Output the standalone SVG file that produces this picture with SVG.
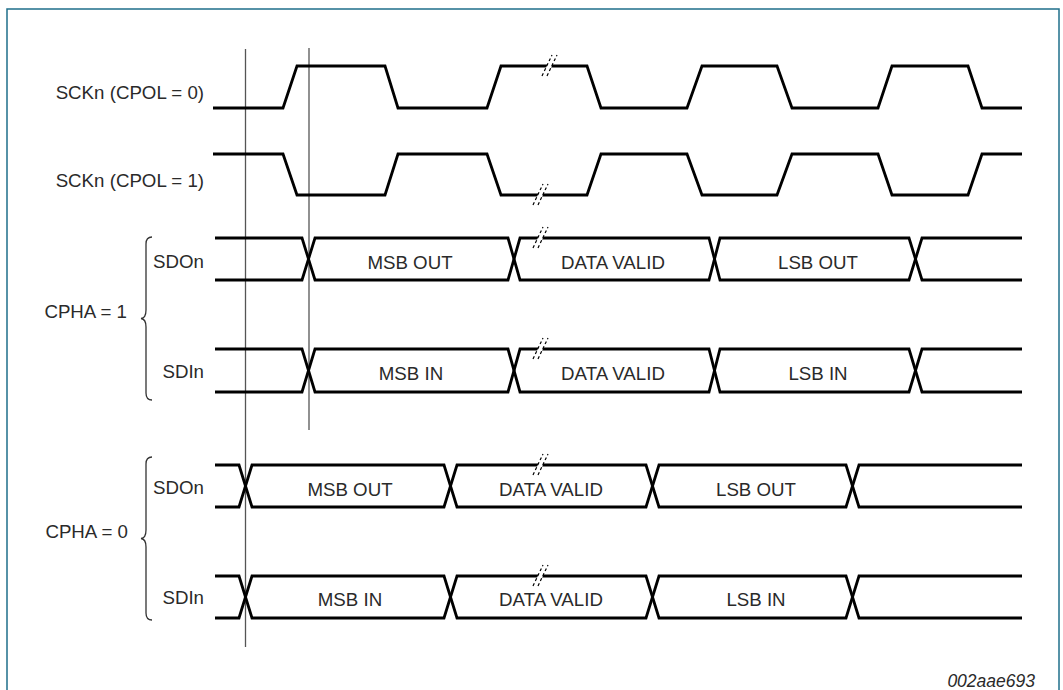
<svg xmlns="http://www.w3.org/2000/svg" xmlns:xlink="http://www.w3.org/1999/xlink" width="1063" height="690" viewBox="0 0 1063 690">
<style>
.sig{fill:none;stroke:#000;stroke-width:2.8;stroke-linejoin:miter}
.lbl{font-family:"Liberation Sans",Arial,sans-serif;font-size:18.7px;fill:#2a2a2a}
.end{text-anchor:end}
.mid{text-anchor:middle}
.brace{fill:none;stroke:#333;stroke-width:1.3}
.ref{stroke:#555;stroke-width:1.3}
.dash{stroke:#000;stroke-width:1.2;stroke-dasharray:3 2.5}
</style>
<defs>
<g id="brk">
<polygon points="-3.6,3.5 1.4,3.5 4.2,-3.5 -0.8,-3.5" fill="#fff"/>
<line class="dash" x1="-7" y1="10" x2="3" y2="-11"/>
<line class="dash" x1="-2" y1="10" x2="8" y2="-11"/>
</g>
</defs>
<rect x="7" y="9" width="1052" height="700" fill="#fff" stroke="#1f6f8b" stroke-width="1.5"/>

<g id="connectors">
<line class="ref" x1="245.5" y1="49" x2="245.5" y2="647"/>
<line class="ref" x1="309" y1="48" x2="309" y2="430"/>
</g>

<g id="sck-cpol0">
<text class="lbl end" x="204" y="99">SCKn (CPOL = 0)</text>
<path class="sig" d="M213,108 H283 L297,66 H385 L398,108 H487 L501,66 H587 L601,108 H687 L702,66 H777 L792,108 H878 L892,66 H968 L982,108 H1022"/>
<use xlink:href="#brk" href="#brk" x="549" y="66"/>
</g>

<g id="sck-cpol1">
<text class="lbl end" x="204" y="187">SCKn (CPOL = 1)</text>
<path class="sig" d="M213,154 H283 L297,195 H385 L398,154 H487 L501,195 H587 L601,154 H687 L702,195 H777 L792,154 H878 L892,195 H968 L982,154 H1022"/>
<use xlink:href="#brk" href="#brk" x="540" y="195"/>
</g>

<g id="cpha1">
<text class="lbl end" x="127" y="318">CPHA = 1</text>
<path class="brace" d="M152,237 Q146,237 146,244 V310 Q146,318 141,318.5 Q146,319 146,327 V393 Q146,400 152,400"/>
</g>

<g id="cpha1-sdo">
<text class="lbl end" x="204" y="268">SDOn</text>
<path class="sig" d="M215,238 H302 L315,280 H508 L520,238 H709 L720,280 H909 L922,238 H1022"/>
<path class="sig" d="M215,280 H302 L315,238 H508 L520,280 H709 L720,238 H909 L922,280 H1022"/>
<use xlink:href="#brk" href="#brk" x="540" y="238"/>
<text class="lbl mid" x="410" y="269">MSB OUT</text>
<text class="lbl mid" x="613" y="269">DATA VALID</text>
<text class="lbl mid" x="818" y="269">LSB OUT</text>
</g>

<g id="cpha1-sdi">
<text class="lbl end" x="204" y="378">SDIn</text>
<path class="sig" d="M215,349 H302 L315,392 H508 L520,349 H709 L720,392 H909 L922,349 H1022"/>
<path class="sig" d="M215,392 H302 L315,349 H508 L520,392 H709 L720,349 H909 L922,392 H1022"/>
<use xlink:href="#brk" href="#brk" x="540" y="349"/>
<text class="lbl mid" x="411" y="380">MSB IN</text>
<text class="lbl mid" x="613" y="380">DATA VALID</text>
<text class="lbl mid" x="818" y="380">LSB IN</text>
</g>

<g id="cpha0">
<text class="lbl end" x="128" y="538">CPHA = 0</text>
<path class="brace" d="M152,457 Q146,457 146,464 V530 Q146,538 141,538.5 Q146,539 146,547 V613 Q146,620 152,620"/>
</g>

<g id="cpha0-sdo">
<text class="lbl end" x="204" y="494">SDOn</text>
<path class="sig" d="M215,465 H239 L252,507 H444 L457,465 H646 L659,507 H846 L859,465 H1022"/>
<path class="sig" d="M215,507 H239 L252,465 H444 L457,507 H646 L659,465 H846 L859,507 H1022"/>
<use xlink:href="#brk" href="#brk" x="540" y="465"/>
<text class="lbl mid" x="350" y="496">MSB OUT</text>
<text class="lbl mid" x="551" y="496">DATA VALID</text>
<text class="lbl mid" x="756" y="496">LSB OUT</text>
</g>

<g id="cpha0-sdi">
<text class="lbl end" x="204" y="604">SDIn</text>
<path class="sig" d="M215,576 H239 L252,618 H444 L457,576 H646 L659,618 H846 L859,576 H1022"/>
<path class="sig" d="M215,618 H239 L252,576 H444 L457,618 H646 L659,576 H846 L859,618 H1022"/>
<use xlink:href="#brk" href="#brk" x="540" y="576"/>
<text class="lbl mid" x="350" y="606">MSB IN</text>
<text class="lbl mid" x="551" y="606">DATA VALID</text>
<text class="lbl mid" x="756" y="606">LSB IN</text>
</g>

<text class="lbl end" x="1035" y="687" style="font-style:italic;font-size:17.5px">002aae693</text>
</svg>
